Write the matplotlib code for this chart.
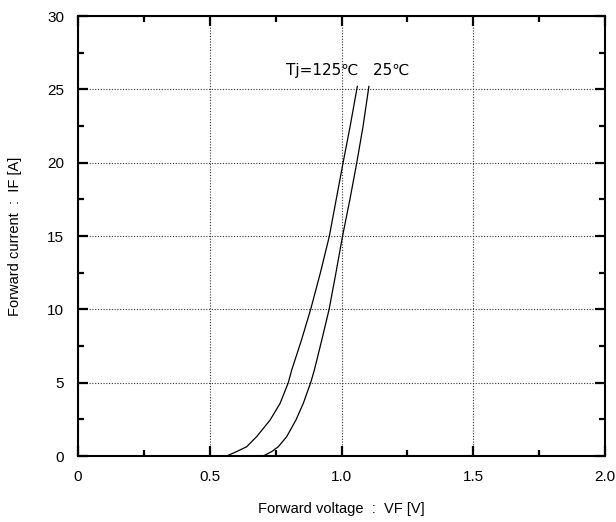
import matplotlib
matplotlib.use("Agg")
import matplotlib.pyplot as plt
from matplotlib.ticker import MultipleLocator

# Data
vf_125 = [0.564, 0.602, 0.640, 0.678, 0.729, 0.767, 0.798, 0.811, 0.848, 0.883, 0.920, 0.954, 0.980, 1.006, 1.033, 1.060]
if_125 = [0.0, 0.3, 0.63, 1.32, 2.45, 3.59, 5.0, 5.86, 7.9, 10.0, 12.5, 15.0, 17.5, 20.0, 22.5, 25.2]
vf_25 = [0.703, 0.735, 0.760, 0.792, 0.827, 0.855, 0.883, 0.897, 0.925, 0.953, 0.979, 1.004, 1.032, 1.058, 1.082, 1.104]
if_25 = [0.0, 0.3, 0.63, 1.32, 2.45, 3.59, 5.0, 5.86, 7.9, 10.0, 12.5, 15.0, 17.5, 20.0, 22.5, 25.2]

x_ticks = [0, 0.5, 1.0, 1.5, 2.0]
x_tick_labels = ["0", "0.5", "1.0", "1.5", "2.0"]
y_ticks = [0, 5, 10, 15, 20, 25, 30]
y_tick_labels = ["0", "5", "10", "15", "20", "25", "30"]
annotation = "Tj=125℃   25℃"

plt.rcParams['font.family'] = ['Liberation Sans', 'DejaVu Sans']

fig = plt.figure(figsize=(6.16, 5.22), dpi=100)
ax = fig.add_axes([78/616, 1 - 456/522, (605 - 78)/616, (456 - 16)/522])

ax.plot(vf_125, if_125, color='black', lw=0.9)
ax.plot(vf_25, if_25, color='black', lw=0.9)

ax.set_xlim(0, 2.0)
ax.set_ylim(0, 30)
ax.set_xticks(x_ticks)
ax.set_xticklabels(x_tick_labels)
ax.set_yticks(y_ticks)
ax.set_yticklabels(y_tick_labels)
ax.xaxis.set_minor_locator(MultipleLocator(0.25))
ax.yaxis.set_minor_locator(MultipleLocator(2.5))

ax.tick_params(which='both', direction='in', top=True, right=True, width=1.6, colors='black')
ax.tick_params(which='major', length=7, labelsize=11, pad=10)
ax.tick_params(which='minor', length=4.5)

ax.grid(True, which='major', color='#333333', linestyle=(0, (1, 1.5)), linewidth=0.8)

for s in ax.spines.values():
    s.set_linewidth(1.5)
    s.set_color('black')

ax.set_xlabel("Forward voltage  :  VF [V]", fontsize=10.5, labelpad=13)
ax.set_ylabel("Forward current  :  IF [A]", fontsize=10.5, labelpad=18)

ax.text(0.79, 26.3, annotation, fontsize=11, ha='left', va='center',
        family=['Liberation Sans Narrow', 'DejaVu Sans Condensed', 'DejaVu Sans'])

fig.savefig("out.png", dpi=100)
